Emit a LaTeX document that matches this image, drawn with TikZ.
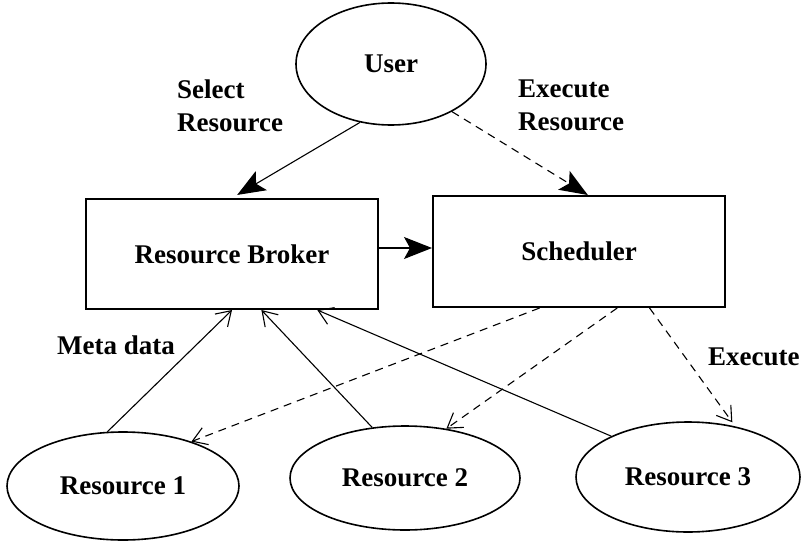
\documentclass[tikz,border=0pt]{standalone}
\usepackage{fontspec}
\setmainfont{Liberation Serif}
\usetikzlibrary{shapes.geometric,arrows.meta,calc}
\begin{document}
\begin{tikzpicture}[x=1pt,y=-1pt,
  lbl/.style={font=\fontsize{27}{33}\selectfont\bfseries, inner sep=0pt},
  oval/.style={ellipse, draw, line width=1.6pt, inner sep=0pt, lbl},
  boxnode/.style={rectangle, draw, line width=2pt, inner sep=0pt, lbl},
  conn/.style={line width=1.1pt},
  fullhead/.style={conn, -{Stealth[length=28pt,width=22pt,inset=6pt]}},
  openhead/.style={conn, -{Straight Barb[length=14pt,width=18pt,line width=1.1pt]}},
  dashline/.style={dash pattern=on 8pt off 6pt}
]
\useasboundingbox (0,0) rectangle (801,541);

% nodes
\node[oval, minimum width=190pt, minimum height=122pt] (user) at (391,64) {User};
\node[boxnode, minimum width=292pt, minimum height=110pt] (broker) at (232,254) {Resource Broker};
\node[boxnode, minimum width=292pt, minimum height=111pt] (sched) at (579,251.5) {Scheduler};
\node[oval, minimum width=232pt, minimum height=108pt] (r1) at (123,486) {Resource 1};
\node[oval, minimum width=230pt, minimum height=104pt] (r2) at (405,478) {Resource 2};
\node[oval, minimum width=224pt, minimum height=110pt] (r3) at (688,477) {Resource 3};

% labels
\node[lbl, anchor=north west, align=left] (lsel) at (177,80) {Select\\Resource};
\node[lbl, anchor=north west, align=left] (lexe) at (518,80) {Execute\\Resource};
\node[lbl, anchor=west] (lmeta) at (57,345) {Meta data};
\node[lbl, anchor=west] (lrun) at (708,357) {Execute};

% user to broker and scheduler
\draw[fullhead, shorten >=6pt] (user.-118) -- (broker.north);
\draw[fullhead, dashline] (user.-38) -- ($(sched.north west)!0.53!(sched.north east)$);

% broker to scheduler
\draw[fullhead] (broker.east) ++(0,-6) coordinate (bs) -- (bs -| sched.west);

% metadata from resources to broker
\draw[openhead] (r1.106) -- (broker.south);
\draw[openhead] (r2.123) -- ($(broker.south west)!0.6!(broker.south east)$);
\draw[openhead] (r3.152) -- ($(broker.south west)!0.79!(broker.south east)$);

% execution from scheduler to resources
\draw[openhead, dashline] ($(sched.south west)!0.366!(sched.south east)$) -- (r1.33);
\draw[openhead, dashline] ($(sched.south west)!0.63!(sched.south east)$) -- (r2.50);
\draw[openhead, dashline, shorten >=5pt] ($(sched.south west)!0.74!(sched.south east)$) -- (r3.47);
\end{tikzpicture}
\end{document}
